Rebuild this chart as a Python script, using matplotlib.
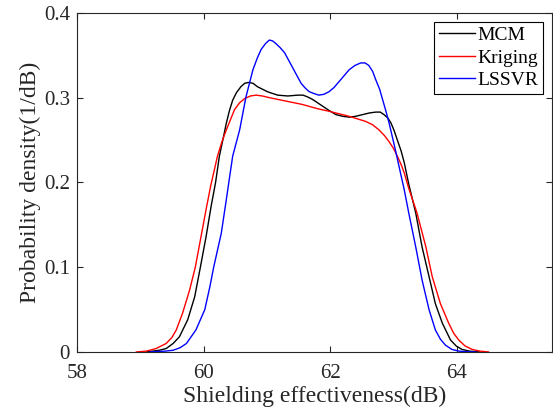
import numpy as np
import matplotlib.pyplot as plt
from matplotlib.ticker import FuncFormatter

plt.rcParams['font.family'] = ['Liberation Serif', 'DejaVu Serif']

# values
mcm_x = [59.10, 59.30, 59.41, 59.52, 59.62, 59.75, 59.86, 59.95, 60.04, 60.12, 60.19,
         60.25, 60.31, 60.36, 60.41, 60.46, 60.52, 60.59, 60.65, 60.71, 60.78, 60.85,
         60.93, 61.01, 61.17, 61.33, 61.49, 61.57, 61.64, 61.72, 61.80, 61.88, 61.98,
         62.09, 62.20, 62.30, 62.40, 62.51, 62.62, 62.72, 62.79, 62.85, 62.91, 62.96,
         63.01, 63.06, 63.12, 63.17, 63.24, 63.35, 63.45, 63.56, 63.66, 63.77, 63.90,
         63.99, 64.08, 64.20, 64.36]
mcm_y = [0.0, 0.002, 0.004, 0.010, 0.018, 0.038, 0.065, 0.100, 0.136, 0.172, 0.200,
         0.231, 0.252, 0.270, 0.285, 0.297, 0.306, 0.313, 0.317, 0.318, 0.317, 0.313,
         0.310, 0.307, 0.303, 0.302, 0.303, 0.303, 0.301, 0.298, 0.294, 0.290, 0.285,
         0.280, 0.278, 0.277, 0.278, 0.280, 0.282, 0.283, 0.283, 0.280, 0.276, 0.270,
         0.261, 0.250, 0.237, 0.223, 0.198, 0.164, 0.124, 0.089, 0.057, 0.034, 0.014,
         0.007, 0.003, 0.001, 0.0]

krig_x = [58.94, 59.10, 59.25, 59.41, 59.50, 59.57, 59.67, 59.78, 59.87, 59.96, 60.04,
          60.11, 60.22, 60.29, 60.36, 60.43, 60.49, 60.57, 60.65, 60.74, 60.83, 60.93,
          61.04, 61.30, 61.56, 61.80, 61.98, 62.30, 62.56, 62.67, 62.77, 62.86, 62.93,
          63.00, 63.06, 63.12, 63.17, 63.24, 63.37, 63.51, 63.61, 63.74, 63.87, 63.95,
          64.03, 64.13, 64.24, 64.36, 64.50]
krig_y = [0.0, 0.001, 0.004, 0.010, 0.017, 0.026, 0.046, 0.073, 0.100, 0.136, 0.168,
          0.195, 0.231, 0.248, 0.262, 0.275, 0.286, 0.294, 0.299, 0.302, 0.303, 0.302,
          0.300, 0.296, 0.292, 0.287, 0.284, 0.278, 0.272, 0.268, 0.262, 0.255, 0.248,
          0.240, 0.231, 0.221, 0.211, 0.193, 0.164, 0.124, 0.089, 0.057, 0.034, 0.022,
          0.014, 0.007, 0.003, 0.001, 0.0]

lssvr_x = [59.15, 59.40, 59.52, 59.63, 59.73, 59.88, 60.02, 60.10, 60.16, 60.28, 60.36,
           60.46, 60.57, 60.67, 60.78, 60.85, 60.91, 60.98, 61.04, 61.09, 61.14, 61.21,
           61.28, 61.41, 61.54, 61.61, 61.67, 61.74, 61.82, 61.90, 61.98, 62.06, 62.14,
           62.22, 62.30, 62.39, 62.48, 62.55, 62.61, 62.67, 62.72, 62.78, 62.83, 62.88,
           62.93, 62.98, 63.03, 63.11, 63.17, 63.24, 63.35, 63.45, 63.56, 63.66, 63.74,
           63.82, 63.92, 64.03, 64.15, 64.30]
lssvr_y = [0.0, 0.001, 0.002, 0.005, 0.010, 0.026, 0.050, 0.077, 0.100, 0.140, 0.180,
           0.231, 0.262, 0.301, 0.333, 0.347, 0.357, 0.364, 0.368, 0.367, 0.364, 0.359,
           0.353, 0.335, 0.317, 0.311, 0.307, 0.305, 0.303, 0.304, 0.307, 0.312, 0.319,
           0.326, 0.333, 0.338, 0.341, 0.341, 0.338, 0.331, 0.321, 0.310, 0.297, 0.284,
           0.270, 0.254, 0.238, 0.211, 0.191, 0.164, 0.124, 0.085, 0.050, 0.026, 0.015,
           0.008, 0.003, 0.001, 0.0003, 0.0]

x_ticks = [58, 60, 62, 64]
y_ticks = [0, 0.1, 0.2, 0.3, 0.4]

fig = plt.figure(figsize=(5.53, 4.17), dpi=100)
ax = fig.add_axes([0.139, 0.156, 0.859, 0.813])

ax.plot(mcm_x, mcm_y, color='black', lw=1.0, label='MCM')
ax.plot(krig_x, krig_y, color='red', lw=1.0, label='Kriging')
ax.plot(lssvr_x, lssvr_y, color='blue', lw=1.0, label='LSSVR')

ax.set_xlim(58, 65.5)
ax.set_ylim(0, 0.4)
ax.set_xticks(x_ticks)
ax.set_yticks(y_ticks)
ax.yaxis.set_major_formatter(FuncFormatter(lambda v, p: '0' if v == 0 else f'{v:g}'))
ax.tick_params(direction='in', top=True, right=True, labelsize=15, length=4,
               colors='#262626', labelcolor='#262626')
ax.tick_params(axis='x', pad=9)
ax.tick_params(axis='y', pad=5)
for s in ax.spines.values():
    s.set_color('#262626')
    s.set_linewidth(0.8)

ax.set_xlabel('Shielding effectiveness(dB)', fontsize=17, color='#262626', labelpad=2)
ax.set_ylabel('Probability density(1/dB)', fontsize=17, color='#262626', labelpad=2)

leg = ax.legend(loc='upper right', fontsize=14, fancybox=False, framealpha=1,
                edgecolor='black', handlelength=1.9, handletextpad=0.1,
                borderpad=0.25, labelspacing=0.25, borderaxespad=0.45)
leg.get_frame().set_linewidth(0.8)

fig.savefig('out.png', dpi=100)
